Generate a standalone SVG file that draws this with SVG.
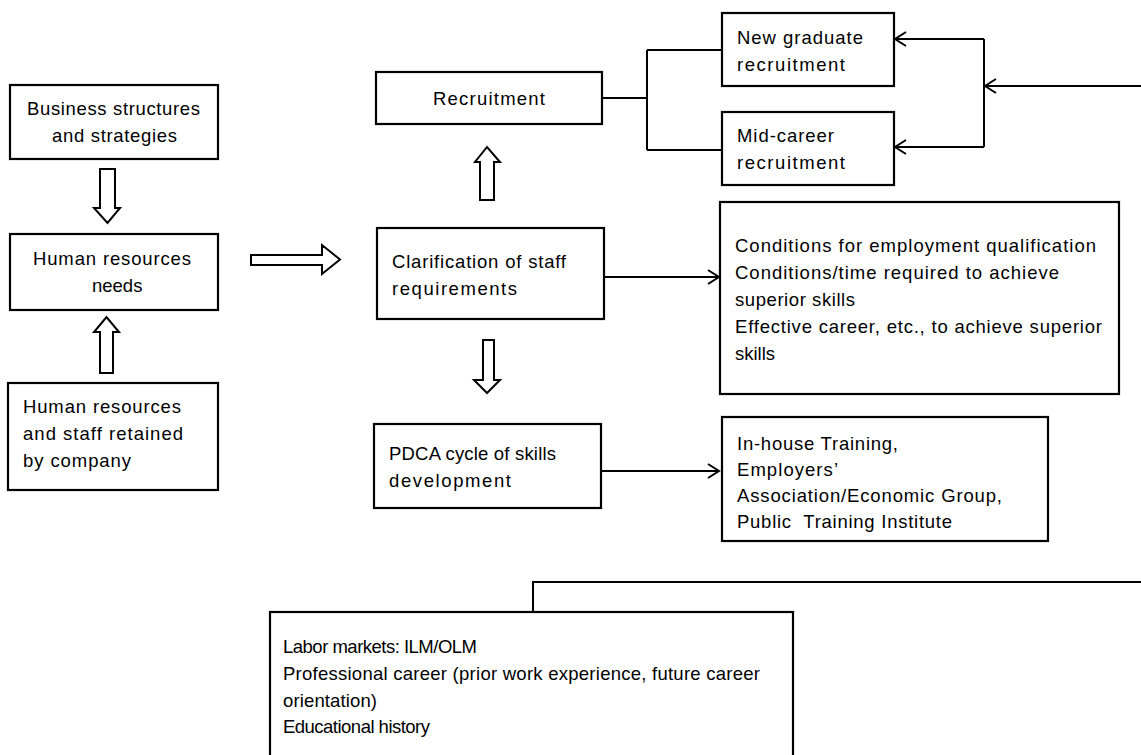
<svg xmlns="http://www.w3.org/2000/svg" width="1141" height="755" viewBox="0 0 1141 755">
<style>
.box{fill:#fff;stroke:#000;stroke-width:2.2}
.blk{fill:#fff;stroke:#000;stroke-width:2}
.ln{fill:none;stroke:#000;stroke-width:2}
text{font-family:"Liberation Sans",Arial,sans-serif;font-size:18.5px;fill:#000}
</style>
<defs>
<marker id="ah" markerWidth="14" markerHeight="16" refX="12" refY="8" orient="auto" markerUnits="userSpaceOnUse">
<path d="M1,1 L12,8 L1,15" fill="none" stroke="#000" stroke-width="2"/>
</marker>
</defs>
<rect width="1141" height="755" fill="#fff"/>

<g id="connectors">
<polygon class="blk" points="100,169 115,169 115,208 120,208 107.5,223 94,208 100,208"/>
<polygon class="blk" points="100,373 113,373 113,332 119,332 106.5,317 94,332 100,332"/>
<polygon class="blk" points="251,255 322,255 322,245 340,259.5 322,274 322,265 251,265"/>
<polygon class="blk" points="480,200 494,200 494,162 500,162 487,147 475,162 480,162"/>
<polygon class="blk" points="483,340 494,340 494,380 500,380 487,393 474,380 483,380"/>
<path class="ln" d="M602,98 H647 M647,50 V150 M647,50 H722 M647,150 H722"/>
<path class="ln" d="M1141,86 H985" marker-end="url(#ah)"/>
<path class="ln" d="M984,39 V147"/>
<path class="ln" d="M984,39 H895" marker-end="url(#ah)"/>
<path class="ln" d="M984,147 H895" marker-end="url(#ah)"/>
<path class="ln" d="M604,277 H719" marker-end="url(#ah)"/>
<path class="ln" d="M601,471 H719" marker-end="url(#ah)"/>
<path class="ln" d="M1141,582 H533 V612"/>
</g>

<g id="business">
<rect class="box" x="10" y="85" width="208" height="74"/>
<text x="27" y="115" textLength="173" lengthAdjust="spacing">Business structures</text>
<text x="52" y="142" textLength="125" lengthAdjust="spacing">and strategies</text>
</g>
<g id="hr-needs">
<rect class="box" x="10" y="234" width="208" height="76"/>
<text x="33" y="265" textLength="158" lengthAdjust="spacing">Human resources</text>
<text x="92" y="292">needs</text>
</g>
<g id="hr-retained">
<rect class="box" x="8" y="383" width="210" height="107"/>
<text x="23" y="413" textLength="158" lengthAdjust="spacing">Human resources</text>
<text x="23" y="440" textLength="160" lengthAdjust="spacing">and staff retained</text>
<text x="23" y="467" textLength="108" lengthAdjust="spacing">by company</text>
</g>
<g id="recruitment">
<rect class="box" x="376" y="72" width="226" height="52"/>
<text x="433" y="105" textLength="112" lengthAdjust="spacing">Recruitment</text>
</g>
<g id="new-graduate">
<rect class="box" x="722" y="13" width="172" height="73"/>
<text x="737" y="44" textLength="126" lengthAdjust="spacing">New graduate</text>
<text x="737" y="71" textLength="108" lengthAdjust="spacing">recruitment</text>
</g>
<g id="mid-career">
<rect class="box" x="722" y="112" width="172" height="73"/>
<text x="737" y="142" textLength="97" lengthAdjust="spacing">Mid-career</text>
<text x="737" y="169" textLength="108" lengthAdjust="spacing">recruitment</text>
</g>
<g id="clarification">
<rect class="box" x="377" y="228" width="227" height="91"/>
<text x="392" y="268" textLength="174" lengthAdjust="spacing">Clarification of staff</text>
<text x="392" y="295" textLength="125" lengthAdjust="spacing">requirements</text>
</g>
<g id="conditions">
<rect class="box" x="720" y="202" width="399" height="192"/>
<text x="735" y="252" textLength="361" lengthAdjust="spacing">Conditions for employment qualification</text>
<text x="735" y="279" textLength="324" lengthAdjust="spacing">Conditions/time required to achieve</text>
<text x="735" y="306" textLength="120" lengthAdjust="spacing">superior skills</text>
<text x="735" y="333" textLength="367" lengthAdjust="spacing">Effective career, etc., to achieve superior</text>
<text x="735" y="360">skills</text>
</g>
<g id="pdca">
<rect class="box" x="374" y="424" width="227" height="84"/>
<text x="389" y="460" textLength="167" lengthAdjust="spacing">PDCA cycle of skills</text>
<text x="389" y="487" textLength="122" lengthAdjust="spacing">development</text>
</g>
<g id="training">
<rect class="box" x="722" y="417" width="326" height="124"/>
<text x="737" y="450" textLength="161" lengthAdjust="spacing">In-house Training,</text>
<text x="737" y="476" textLength="101" lengthAdjust="spacing">Employers’</text>
<text x="737" y="502" textLength="265" lengthAdjust="spacing">Association/Economic Group,</text>
<text x="737" y="528" textLength="215" lengthAdjust="spacing" xml:space="preserve">Public  Training Institute</text>
</g>
<g id="labor">
<rect class="box" x="270" y="612" width="523" height="170"/>
<text x="283" y="653" textLength="194" lengthAdjust="spacing">Labor markets: ILM/OLM</text>
<text x="283" y="680" textLength="477" lengthAdjust="spacing">Professional career (prior work experience, future career</text>
<text x="283" y="707" textLength="94" lengthAdjust="spacing">orientation)</text>
<text x="283" y="733" textLength="147" lengthAdjust="spacing">Educational history</text>
</g>
</svg>
